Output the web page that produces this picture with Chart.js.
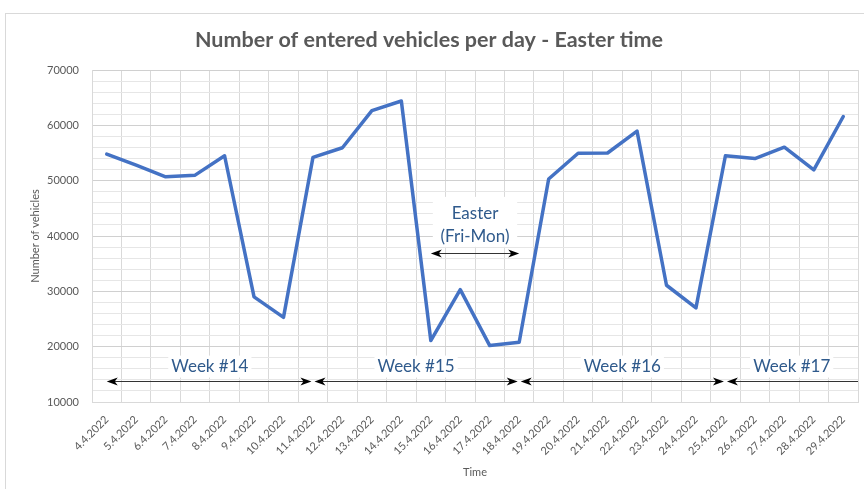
<!DOCTYPE html>
<html lang="en">
<head>
    <meta charset="UTF-8">
    <title>Number of entered vehicles per day - Easter time</title>
    <script src="https://cdn.jsdelivr.net/npm/chart.js"></script>
    <style>
        body {
            margin: 0;
            padding: 0;
            background-color: #ffffff;
        }

        #wrap {
            width: 864px;
            height: 489px;
            position: relative;
        }
    </style>
</head>
<body>
    <div id="wrap">
        <canvas id="vehiclesChart"></canvas>
    </div>

    <script>
        // Days (x axis categories)
        const days = [
            '4.4.2022', '5.4.2022', '6.4.2022', '7.4.2022', '8.4.2022', '9.4.2022', '10.4.2022',
            '11.4.2022', '12.4.2022', '13.4.2022', '14.4.2022', '15.4.2022', '16.4.2022', '17.4.2022',
            '18.4.2022', '19.4.2022', '20.4.2022', '21.4.2022', '22.4.2022', '23.4.2022', '24.4.2022',
            '25.4.2022', '26.4.2022', '27.4.2022', '28.4.2022', '29.4.2022'
        ];

        // Number of entered vehicles per day
        const vehicles = [
            54800, 52800, 50700, 51000, 54500, 29000, 25300,
            54200, 55950, 62650, 64400, 21100, 30300, 20200,
            20800, 50300, 54950, 55000, 58950, 31100, 27000,
            54500, 54000, 56050, 51950, 61600
        ];

        // Week annotations (arrows between days, null = up to the plot edge)
        const weekNames = ['Week #14', 'Week #15', 'Week #16', 'Week #17'];
        const weekFrom = ['4.4.2022', '11.4.2022', '18.4.2022', '25.4.2022'];
        const weekTo = ['11.4.2022', '18.4.2022', '25.4.2022', null];
        const weekArrowValue = 13800;
        const weekTextValue = 16400;

        // Easter annotation
        const easterText = ['Easter', '(Fri-Mon)'];
        const easterFrom = '15.4.2022';
        const easterTo = '18.4.2022';
        const easterArrowValue = 36900;
        const easterTextValue = 44000;

        const textGray = '#595959';
        const noteBlue = '#2f5a8c';
        const fontFamily = 'Lato, "Open Sans", sans-serif';

        function arrowHead(ctx, tipX, y, dir) {
            // dir = 1 points right, dir = -1 points left
            ctx.beginPath();
            ctx.moveTo(tipX, y);
            ctx.lineTo(tipX - dir * 11, y - 4);
            ctx.lineTo(tipX - dir * 8, y);
            ctx.lineTo(tipX - dir * 11, y + 4);
            ctx.closePath();
            ctx.fill();
        }

        function doubleArrow(ctx, x1, x2, y, headLeft, headRight) {
            ctx.beginPath();
            ctx.moveTo(x1 + (headLeft ? 4 : 0), y);
            ctx.lineTo(x2 - (headRight ? 4 : 0), y);
            ctx.stroke();
            if (headLeft) arrowHead(ctx, x1, y, -1);
            if (headRight) arrowHead(ctx, x2, y, 1);
        }

        // Draws outer frame, week arrows and the Easter note
        const notesPlugin = {
            id: 'notes',
            beforeDraw(chart) {
                const ctx = chart.ctx;
                ctx.save();
                ctx.strokeStyle = '#d9d9d9';
                ctx.lineWidth = 1;
                ctx.strokeRect(5.5, 13.5, chart.width + 10, chart.height + 10);
                ctx.restore();
            },
            beforeDatasetsDraw(chart) {
                const { ctx, scales: { x, y } } = chart;
                ctx.save();
                ctx.font = '17px ' + fontFamily;
                ctx.fillStyle = '#ffffff';
                // white boxes behind the texts
                weekNames.forEach((name, i) => {
                    const x1 = x.getPixelForValue(days.indexOf(weekFrom[i]));
                    const x2 = weekTo[i] ? x.getPixelForValue(days.indexOf(weekTo[i])) : chart.chartArea.right;
                    const w = ctx.measureText(name).width + 6;
                    ctx.fillRect((x1 + x2) / 2 - w / 2, y.getPixelForValue(weekTextValue) - 11, w, 22);
                });
                const ex1 = x.getPixelForValue(days.indexOf(easterFrom));
                const ex2 = x.getPixelForValue(days.indexOf(easterTo));
                const ey = y.getPixelForValue(easterTextValue);
                ctx.fillRect(ex1 + 2, ey - 17, ex2 - ex1 - 4, 50);
                ctx.restore();
            },
            afterDatasetsDraw(chart) {
                const { ctx, chartArea, scales: { x, y } } = chart;
                ctx.save();
                ctx.strokeStyle = '#333333';
                ctx.fillStyle = '#000000';
                ctx.lineWidth = 1.2;

                const ay = Math.round(y.getPixelForValue(weekArrowValue)) + 0.5;
                weekNames.forEach((name, i) => {
                    const x1 = x.getPixelForValue(days.indexOf(weekFrom[i])) + (i > 0 ? 1.5 : 0);
                    const x2 = weekTo[i] ? x.getPixelForValue(days.indexOf(weekTo[i])) - 1.5 : chartArea.right;
                    doubleArrow(ctx, x1, x2, ay, true, weekTo[i] !== null);
                });

                const ex1 = x.getPixelForValue(days.indexOf(easterFrom));
                const ex2 = x.getPixelForValue(days.indexOf(easterTo));
                doubleArrow(ctx, ex1, ex2, Math.round(y.getPixelForValue(easterArrowValue)) + 0.5, true, true);

                // texts
                ctx.font = '17px ' + fontFamily;
                ctx.fillStyle = noteBlue;
                ctx.textAlign = 'center';
                ctx.textBaseline = 'middle';
                weekNames.forEach((name, i) => {
                    const x1 = x.getPixelForValue(days.indexOf(weekFrom[i]));
                    const x2 = weekTo[i] ? x.getPixelForValue(days.indexOf(weekTo[i])) : chartArea.right;
                    ctx.fillText(name, (x1 + x2) / 2, y.getPixelForValue(weekTextValue));
                });
                const ey = y.getPixelForValue(easterTextValue);
                easterText.forEach((line, i) => {
                    ctx.fillText(line, (ex1 + ex2) / 2, ey + i * 23);
                });
                ctx.restore();
            }
        };

        const ctx = document.getElementById('vehiclesChart').getContext('2d');
        const vehiclesChart = new Chart(ctx, {
            type: 'line',
            data: {
                labels: days,
                datasets: [{
                    label: 'Number of vehicles',
                    data: vehicles,
                    borderColor: '#4472c4',
                    borderWidth: 3.5,
                    pointRadius: 0,
                    tension: 0,
                    borderJoinStyle: 'round',
                    borderCapStyle: 'round'
                }]
            },
            plugins: [notesPlugin],
            options: {
                responsive: true,
                maintainAspectRatio: false,
                animation: false,
                layout: {
                    padding: { left: 0, right: 6, top: 0, bottom: 0 }
                },
                plugins: {
                    legend: { display: false },
                    tooltip: { enabled: false },
                    title: {
                        display: true,
                        text: 'Number of entered vehicles per day - Easter time',
                        color: textGray,
                        font: { family: fontFamily, size: 21.5, weight: 'bold', lineHeight: 1.2 },
                        padding: { top: 27.1, bottom: 17.1 }
                    }
                },
                scales: {
                    x: {
                        offset: true,
                        grid: {
                            offset: true,
                            color: '#d9d9d9',
                            drawTicks: false
                        },
                        border: { color: '#d9d9d9' },
                        ticks: {
                            color: textGray,
                            font: { family: fontFamily, size: 11 },
                            maxRotation: 45,
                            minRotation: 45,
                            autoSkip: false,
                            padding: 11
                        },
                        title: {
                            display: true,
                            text: 'Time',
                            color: textGray,
                            font: { family: fontFamily, size: 11 },
                            padding: { top: 0, bottom: 10.4 }
                        },
                        afterFit(scale) {
                            scale.height = 87;
                        }
                    },
                    y: {
                        min: 10000,
                        max: 70000,
                        grid: {
                            color: (c) => (c.tick && c.tick.value % 10000 === 0) ? '#d0d0d0' : '#e6e6e6',
                            drawTicks: false
                        },
                        border: { color: '#d9d9d9' },
                        ticks: {
                            stepSize: 2000,
                            autoSkip: false,
                            color: textGray,
                            font: { family: fontFamily, size: 11 },
                            padding: 13,
                            callback: (v) => (v % 10000 === 0 ? v : '')
                        },
                        title: {
                            display: true,
                            text: 'Number of vehicles',
                            color: textGray,
                            font: { family: fontFamily, size: 11 },
                            padding: { top: 28.4, bottom: 0 }
                        },
                        afterFit(scale) {
                            scale.width = 92;
                        }
                    }
                }
            }
        });
    </script>
</body>
</html>
